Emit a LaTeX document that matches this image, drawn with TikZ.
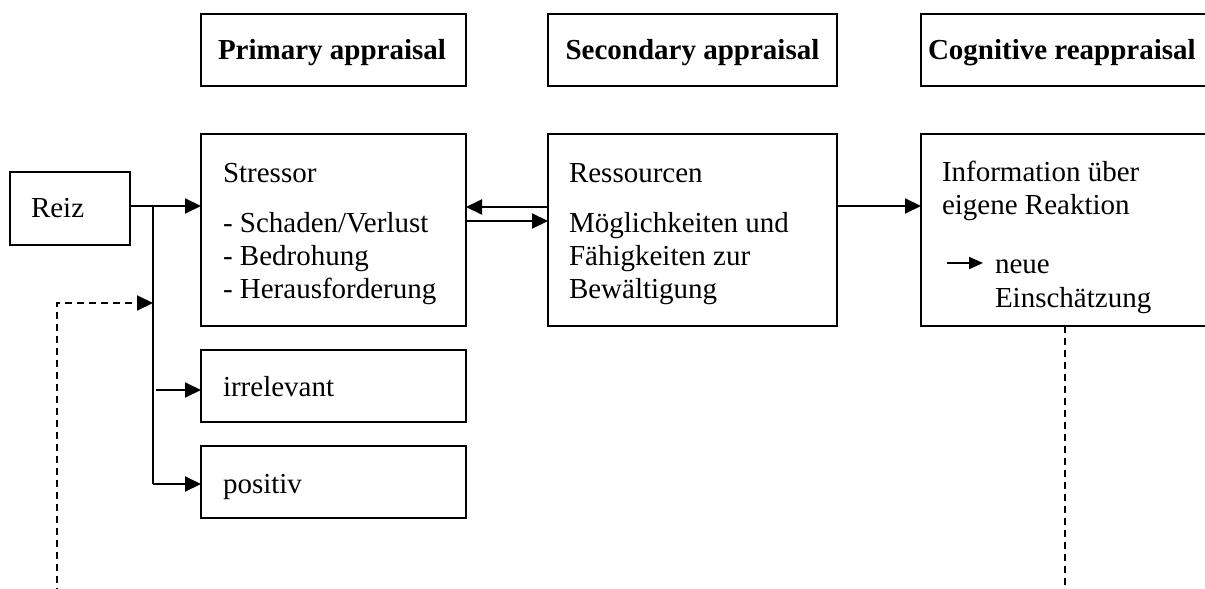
\documentclass[tikz,border=0pt]{standalone}
\usepackage{fontspec}
\setmainfont{Liberation Serif}
\usetikzlibrary{arrows.meta}
\begin{document}
\begin{tikzpicture}[x=1pt,y=-1pt,
  box/.style={draw, line width=2pt, inner sep=0pt, outer sep=0pt, anchor=north west},
  txt/.style={inner sep=0pt, outer sep=0pt, anchor=base west, font=\fontsize{29}{33}\selectfont},
  hd/.style={inner sep=0pt, outer sep=0pt, anchor=base, font=\fontsize{29}{33}\selectfont\bfseries},
  arr/.style={line width=2pt, -{Triangle[length=16pt,width=15pt]}},
  sarr/.style={line width=2pt, -{Triangle[length=14pt,width=12pt]}},
  dsh/.style={line width=1.6pt, dash pattern=on 7pt off 5pt}]
\useasboundingbox (0,0) rectangle (1205,589);
\clip (0,0) rectangle (1205,589);
\fill[white] (0,0) rectangle (1205,589);
% boxes
\node[box, minimum width=265pt, minimum height=72pt] (hP) at (201,14) {};
\node[box, minimum width=289pt, minimum height=72pt] (hS) at (548,14) {};
\node[box, minimum width=292pt, minimum height=72pt] (hC) at (921,14) {};
\node[box, minimum width=120pt, minimum height=73pt] (reiz) at (10,172) {};
\node[box, minimum width=265pt, minimum height=192pt] (stressor) at (201,134) {};
\node[box, minimum width=289pt, minimum height=192pt] (ressourcen) at (548,134) {};
\node[box, minimum width=292pt, minimum height=192pt] (info) at (921,134) {};
\node[box, minimum width=265pt, minimum height=72pt] (irr) at (201,350) {};
\node[box, minimum width=265pt, minimum height=72pt] (pos) at (201,446) {};
% headers
\node[hd] (thP) at (332,59) {Primary appraisal};
\node[hd] (thS) at (692.5,59) {Secondary appraisal};
\node[hd, anchor=base west] (thC) at (928,59) {Cognitive reappraisal};
% texts
\node[txt] (tReiz) at (31,217) {Reiz};
\node[txt] (tS1) at (223,182) {Stressor};
\node[txt] (tS2) at (223,232) {- Schaden/Verlust};
\node[txt] (tS3) at (223,265) {- Bedrohung};
\node[txt] (tS4) at (223,298) {- Herausforderung};
\node[txt] (tR1) at (569,182) {Ressourcen};
\node[txt] (tR2) at (569,232) {Möglichkeiten und};
\node[txt] (tR3) at (569,265) {Fähigkeiten zur};
\node[txt] (tR4) at (569,298) {Bewältigung};
\node[txt] (tI1) at (942,181) {Information über};
\node[txt] (tI2) at (942,214) {eigene Reaktion};
\node[txt] (tI3) at (995,273) {neue};
\node[txt] (tI4) at (995,307) {Einschätzung};
\node[txt] (tIrr) at (223,396) {irrelevant};
\node[txt] (tPos) at (223,493) {positiv};
% coordinates
\coordinate (j0) at (153,206);
\coordinate (j1) at (156,390);
\coordinate (j2) at (153,484);
\coordinate (b0) at (548,207);
\coordinate (f0) at (466,221);
\coordinate (d0) at (57,595);
\coordinate (d1) at (153,303);
\coordinate (e0) at (1065,595);
\coordinate (sa) at (947,263);
\coordinate (sb) at (983,263);
% connectors
\draw[arr] (reiz.east |- j0) -- (stressor.west |- j0);
\draw[line width=2pt] (j0) -- (j2);
\draw[arr] (j1) -- (irr.west |- j1);
\draw[arr] (j2) -- (pos.west |- j2);
\draw[arr] (ressourcen.west |- b0) -- (stressor.east |- b0);
\draw[arr] (stressor.east |- f0) -- (ressourcen.west |- f0);
\draw[arr] (ressourcen.east |- j0) -- (info.west |- j0);
\draw[dsh] (d0) |- ([xshift=-14pt]d1);
\draw[arr] ([xshift=-14pt]d1) -- (d1);
\draw[dsh] (info.south -| e0) -- (e0);
\draw[sarr] (sa) -- (sb);
\end{tikzpicture}
\end{document}
